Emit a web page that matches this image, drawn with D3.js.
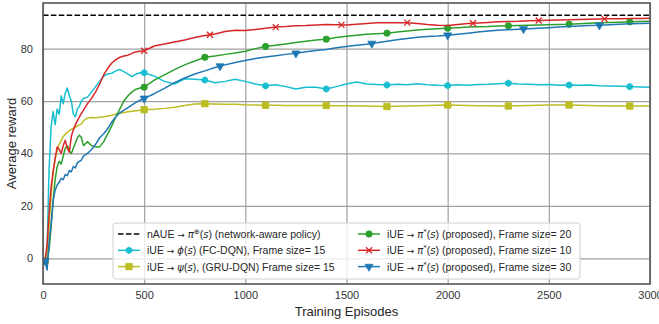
<!DOCTYPE html>
<html>
<head>
<meta charset="utf-8">
<script src="https://cdn.jsdelivr.net/npm/d3@7"></script>
<style>
  body { margin: 0; background: #fff; }
  text { font-family: "Liberation Sans", Arial, sans-serif; }
</style>
</head>
<body>
<div id="chart"></div>
<script>
// episodes shared by every curve
const episodes = [
  0, 10, 20, 30, 40, 50, 60, 70, 80, 90, 100, 110, 120, 130, 140, 150, 160, 170, 180, 190, 200,
  220, 240, 260, 280, 300, 320, 340, 360, 380, 400, 420, 440, 460, 480, 500,
  550, 600, 650, 700, 750, 800, 850, 900, 950, 1000, 1050, 1100, 1150, 1200, 1250, 1300, 1350, 1400, 1450, 1500,
  1550, 1600, 1650, 1700, 1750, 1800, 1850, 1900, 1950, 2000, 2050, 2100, 2150, 2200, 2250, 2300, 2350, 2400, 2450, 2500,
  2550, 2600, 2650, 2700, 2750, 2800, 2850, 2900, 2950, 3000
];

const networkAware = 92.7;

const fcDqn = [
  -1, -1, 3, 34, 50, 56, 51, 57, 55, 62, 59, 63, 65, 62, 60, 55, 54, 57, 58, 60, 61,
  61.5, 63.5, 65.5, 67.5, 69.5, 70.3, 70.6, 71.5, 72, 71.2, 70.3, 69.3, 70.3, 70.8, 70.8,
  69.5, 67.5, 66.5, 68.5, 68.3, 68, 67, 67.5, 68.3, 67.5, 66.5, 65.8, 66.2, 65.5, 64.6, 65.3, 65.3, 64.6, 65.5, 66.5,
  67.3, 66.5, 66.3, 66.1, 66.4, 66.2, 66.6, 66.2, 66, 65.9, 66.2, 66, 66.3, 66.4, 66.6, 66.8, 66.5, 66.4, 66.2, 66.3,
  66, 66.1, 66, 66.1, 65.8, 65.7, 65.6, 65.5, 65.4, 65.3
];

const gruDqn = [
  -1, -1, 2, 12, 24, 33, 38, 41, 43.5, 45, 46.5, 47.3, 48, 48.7, 49.2, 49.6, 50, 50.5, 50.9, 51.2, 52.5,
  53.5, 53.7, 53.6, 53.8, 54, 54.3, 54.6, 55, 55.3, 55.6, 55.9, 56.1, 56.3, 56.5, 56.7,
  56.9, 57.2, 57.6, 58.3, 58.9, 59, 58.9, 58.8, 58.8, 58.6, 58.5, 58.4, 58.4, 58.3, 58.3, 58.3, 58.3, 58.3, 58.2, 58.2,
  58.1, 58.1, 58, 57.9, 58, 58.1, 58.2, 58.3, 58.4, 58.5, 58.4, 58.3, 58.2, 58.2, 58.1, 58.1, 58.2, 58.3, 58.4, 58.5,
  58.5, 58.5, 58.4, 58.3, 58.2, 58.1, 58.1, 58.1, 58.1, 58.1
];

const frame20 = [
  -1, -1, -1, 3, 12, 22, 30, 35, 37, 36, 39, 42, 43, 41, 40, 42, 44, 46, 47, 46, 43,
  44.5, 43, 42.5, 42.5, 44.5, 47.5, 50.5, 54, 57, 60, 62, 63.5, 64.5, 65, 65.3,
  68, 70, 72, 73.8, 75.3, 76.7, 77.2, 77.8, 78.3, 79, 80, 80.8, 81.3, 81.8, 82.3, 82.8, 83.3, 83.6, 84.2, 84.7,
  85.1, 85.5, 85.7, 85.9, 86.3, 86.7, 87.1, 87.4, 87.6, 87.8, 88, 88.2, 88.3, 88.4, 88.6, 88.7, 88.8, 88.9, 89, 89.1,
  89.2, 89.3, 89.5, 89.7, 89.9, 90, 90.1, 90.2, 90.3, 90.4
];

const frame10 = [
  -1, -1, 5, 17, 27, 33, 38, 42.5, 41.5, 40, 43, 45, 42, 40.5, 46.5, 49, 51, 52.5, 54, 55.3, 56.5,
  59, 61, 63.5, 66.5, 70, 72.5, 74.5, 75.8, 76.7, 77.2, 77.5, 78.2, 78.8, 79, 79.2,
  81, 81.8, 82.5, 83.3, 84.2, 85, 85.6, 86.5, 87, 86.9, 87.3, 87.8, 88.2, 88.4, 88.7, 88.8, 89, 89.2, 89.1, 89,
  89.3, 89.6, 89.9, 89.9, 89.9, 89.9, 89.6, 89.2, 88.9, 88.8, 89.2, 89.6, 89.8, 90, 90.2, 90.3, 90.4, 90.6, 90.7, 90.8,
  90.9, 91, 91.1, 91.2, 91.3, 91.4, 91.4, 91.5, 91.5, 91.6
];

const frame30 = [
  -1, -1, -4.5, 6, 13, 22, 26, 28, 29, 30.5, 30, 32, 31.5, 33.5, 33, 35, 34.5, 36.5, 37, 37.5, 39,
  40, 41.5, 43.5, 46, 47.5, 49.5, 52, 54, 55.5, 56.5, 57.5, 58.5, 59.5, 60.3, 61,
  62.8, 64.8, 67, 68.8, 70.3, 71.5, 72.8, 73.8, 74.7, 75.5, 76.2, 76.8, 77.3, 77.8, 78.2, 78.8, 79.3, 79.7, 80.3, 80.8,
  81.3, 81.7, 82.2, 82.8, 83.4, 83.9, 84.3, 84.6, 84.8, 85.1, 85.5, 85.9, 86.3, 86.7, 87, 87.2, 87.4, 87.6, 87.8, 88,
  88.2, 88.4, 88.6, 88.8, 88.9, 89.1, 89.3, 89.5, 89.6, 89.7
];

// where the markers sit (episodes)
const marksEvery300 = [10, 500, 800, 1100, 1400, 1700, 2000, 2300, 2600, 2900];
const marksFrame10 = [10, 500, 825, 1150, 1475, 1800, 2125, 2450, 2775];
const marksFrame30 = [10, 500, 875, 1250, 1625, 2000, 2375, 2750];

const xTicks = [0, 500, 1000, 1500, 2000, 2500, 3000];
const yTicks = [0, 20, 40, 60, 80];

// label pieces: plain text, italic math, superscript
const legendLabels = [
  [["nAUE "], ["→", "arrow"], [" "], ["π", "i"], ["⊕", "sup"], ["("], ["s", "i"], [") (network-aware policy)"]],
  [["iUE "], ["→", "arrow"], [" "], ["ϕ", "i"], ["("], ["s", "i"], [") (FC-DQN), Frame size= 15"]],
  [["iUE "], ["→", "arrow"], [" "], ["ψ", "i"], ["("], ["s", "i"], ["), (GRU-DQN) Frame size= 15"]],
  [["iUE "], ["→", "arrow"], [" "], ["π", "i"], ["*", "sup"], ["("], ["s", "i"], [") (proposed), Frame size= 20"]],
  [["iUE "], ["→", "arrow"], [" "], ["π", "i"], ["*", "sup"], ["("], ["s", "i"], [") (proposed), Frame size= 10"]],
  [["iUE "], ["→", "arrow"], [" "], ["π", "i"], ["*", "sup"], ["("], ["s", "i"], [") (proposed), Frame size= 30"]]
];

const series = [
  { values: fcDqn, color: "#17becf", marker: "hexagon", marks: marksEvery300 },
  { values: gruDqn, color: "#bcbd22", marker: "square", marks: marksEvery300 },
  { values: frame20, color: "#2ca02c", marker: "circle", marks: marksEvery300 },
  { values: frame10, color: "#d62728", marker: "x", marks: marksFrame10 },
  { values: frame30, color: "#1f77b4", marker: "triangle", marks: marksFrame30 }
];

const width = 659, height = 324;
const margin = { top: 3, right: 9, bottom: 40, left: 43 };

const x = d3.scaleLinear().domain([0, 3000]).range([margin.left, width - margin.right]);
const y = d3.scaleLinear().domain([-9.8, 97.4]).range([height - margin.bottom, margin.top]);

const svg = d3.select("#chart").append("svg")
  .attr("width", width)
  .attr("height", height);

svg.append("defs").append("clipPath").attr("id", "plotclip")
  .append("rect")
  .attr("x", margin.left).attr("y", margin.top)
  .attr("width", width - margin.left - margin.right)
  .attr("height", height - margin.top - margin.bottom);

// grid
svg.append("g")
  .attr("transform", `translate(0,${height - margin.bottom})`)
  .call(d3.axisBottom(x).tickValues(xTicks).tickSize(-(height - margin.top - margin.bottom)).tickFormat(d3.format("d")))
  .call(g => g.select(".domain").remove())
  .call(g => g.selectAll(".tick line").attr("stroke", "#a0a0a0").attr("stroke-width", 1.2))
  .call(g => g.selectAll(".tick text").attr("y", 3).attr("dy", "1.1em").attr("font-size", 11).attr("fill", "#333")
    .attr("font-family", "'Liberation Sans', Arial, sans-serif"));

svg.append("g")
  .attr("transform", `translate(${margin.left},0)`)
  .call(d3.axisLeft(y).tickValues(yTicks).tickSize(-(width - margin.left - margin.right)))
  .call(g => g.select(".domain").remove())
  .call(g => g.selectAll(".tick line").attr("stroke", "#a0a0a0").attr("stroke-width", 1.2))
  .call(g => g.selectAll(".tick text").attr("x", -10).attr("font-size", 11).attr("fill", "#333")
    .attr("font-family", "'Liberation Sans', Arial, sans-serif"));

const plot = svg.append("g").attr("clip-path", "url(#plotclip)");

plot.append("line")
  .attr("x1", x(0)).attr("x2", x(3000))
  .attr("y1", y(networkAware)).attr("y2", y(networkAware))
  .attr("stroke", "#000").attr("stroke-width", 1.4)
  .attr("stroke-dasharray", "5.5,2.4");

const line = d3.line().x((d, i) => x(episodes[i])).y(d => y(d));

function valueAt(values, ep) {
  const i = Math.min(d3.bisectLeft(episodes, ep), episodes.length - 1);
  if (episodes[i] === ep || i === 0) return values[i];
  const t = (ep - episodes[i - 1]) / (episodes[i] - episodes[i - 1]);
  return values[i - 1] + t * (values[i] - values[i - 1]);
}

function markerPath(type) {
  if (type === "circle") return d3.symbol(d3.symbolCircle, 32)();
  if (type === "square") return d3.symbol(d3.symbolSquare, 42)();
  if (type === "triangle") return d3.symbol(d3.symbolTriangle, 28)();
  if (type === "hexagon") {
    const r = 3.3;
    return d3.range(6).map(k => {
      const a = Math.PI / 3 * k - Math.PI / 2;
      return (k ? "L" : "M") + (r * Math.cos(a)).toFixed(2) + "," + (r * Math.sin(a)).toFixed(2);
    }).join("") + "Z";
  }
  return "M-3,-3L3,3M-3,3L3,-3";
}

function drawMarker(g, s, cx, cy) {
  const p = g.append("path")
    .attr("d", markerPath(s.marker))
    .attr("transform", `translate(${cx},${cy})` + (s.marker === "triangle" ? " rotate(180)" : ""));
  if (s.marker === "x") p.attr("fill", "none").attr("stroke", s.color).attr("stroke-width", 1.3);
  else p.attr("fill", s.color).attr("stroke", s.color).attr("stroke-width", 0.8);
}

series.forEach(s => {
  plot.append("path")
    .datum(s.values)
    .attr("fill", "none")
    .attr("stroke", s.color)
    .attr("stroke-width", 1.5)
    .attr("stroke-linejoin", "round")
    .attr("d", line);
  s.marks.forEach(ep => drawMarker(plot, s, x(ep), y(valueAt(s.values, ep))));
});

// frame
svg.append("rect")
  .attr("x", margin.left).attr("y", margin.top)
  .attr("width", width - margin.left - margin.right)
  .attr("height", height - margin.top - margin.bottom)
  .attr("fill", "none").attr("stroke", "#555").attr("stroke-width", 1.6);

svg.append("text")
  .attr("x", (margin.left + width - margin.right) / 2)
  .attr("y", 316)
  .attr("text-anchor", "middle")
  .attr("font-size", 13)
  .attr("fill", "#262626")
  .text("Training Episodes");

svg.append("text")
  .attr("transform", `translate(16,${(margin.top + height - margin.bottom) / 2}) rotate(-90)`)
  .attr("text-anchor", "middle")
  .attr("font-size", 13)
  .attr("fill", "#262626")
  .text("Average reward");

// legend
const legend = svg.append("g").attr("transform", "translate(113,223)");
legend.append("rect")
  .attr("width", 467).attr("height", 56).attr("rx", 3)
  .attr("fill", "#fff").attr("fill-opacity", 0.8)
  .attr("stroke", "#d0d0d0").attr("stroke-width", 1);

const handles = [{ color: "#000", dashed: true }].concat(series);
handles.forEach((h, i) => {
  const col = i < 3 ? 0 : 1, row = i % 3;
  const g = legend.append("g").attr("transform", `translate(${col ? 245 : 5},${11 + row * 16.3})`);
  g.append("line").attr("x1", 0).attr("x2", 22)
    .attr("stroke", h.color).attr("stroke-width", 1.5)
    .attr("stroke-dasharray", h.dashed ? "5.5,2.4" : null);
  if (!h.dashed) drawMarker(g, h, 11, 0);
  const t = g.append("text").attr("x", 29).attr("y", 4).attr("font-size", 10.5).attr("fill", "#262626");
  let raised = false;
  legendLabels[i].forEach(([str, kind]) => {
    const ts = t.append("tspan").text(str);
    if (kind === "i") ts.attr("font-style", "italic").attr("font-family", "'DejaVu Sans', sans-serif").attr("font-size", 10);
    if (kind === "arrow") ts.attr("font-family", "'DejaVu Sans', sans-serif").attr("font-size", 9);
    if (kind === "sup") {
      ts.attr("font-size", 7).attr("dy", -4).attr("font-family", "'DejaVu Sans', sans-serif");
      raised = true;
    } else if (raised) {
      ts.attr("dy", 4);
      raised = false;
    }
  });
});
</script>
</body>
</html>
